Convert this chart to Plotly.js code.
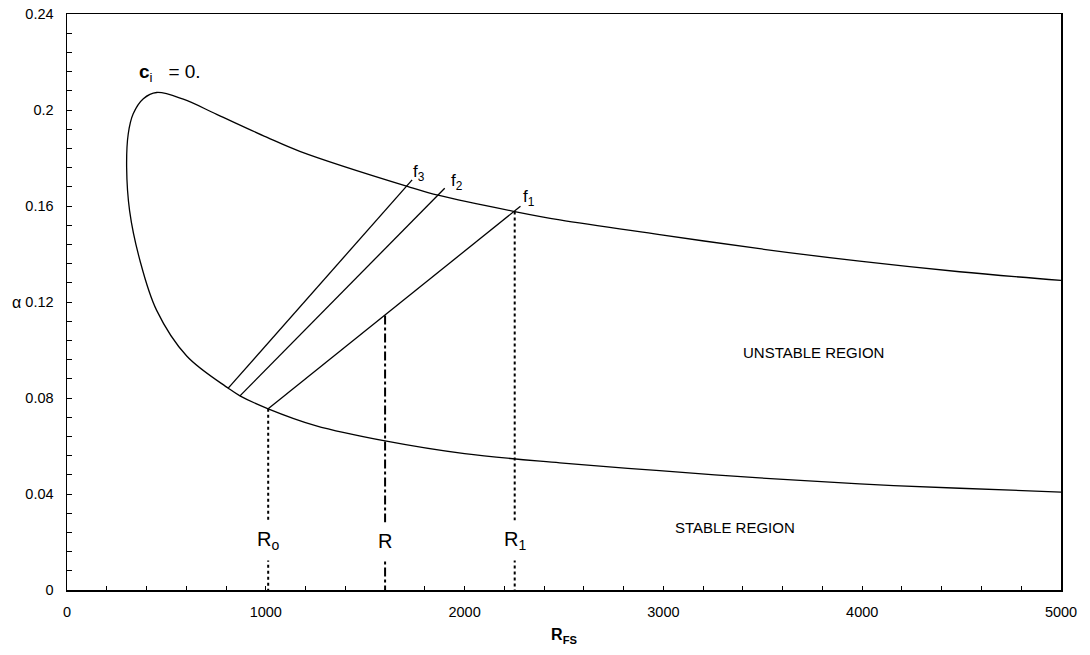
<!DOCTYPE html>
<html>
<head>
<meta charset="utf-8">
<script src="https://cdn.plot.ly/plotly-3.0.1.min.js"></script>
<style>html,body{margin:0;padding:0;background:#fff;}#chart{width:1090px;height:655px;}</style>
</head>
<body>
<div id="chart"></div>
<script>
// Neutral stability curve (c_i = 0): lower branch right->left, nose, then upper branch left->right
const neutralR = [5000, 4490, 3987, 3484, 2981, 2479, 2000, 1607, 1250, 1012, 870, 811, 602, 451, 367, 315, 300, 308, 333, 384, 451, 585, 753, 1004, 1171, 1716, 1872, 2252, 2479, 2981, 3484, 3987, 4490, 5000];
const neutralAlpha = [0.0408, 0.0424, 0.0442, 0.0467, 0.0497, 0.0530, 0.0568, 0.0620, 0.0685, 0.0755, 0.0809, 0.0841, 0.0975, 0.1165, 0.1373, 0.158, 0.176, 0.190, 0.1984, 0.2047, 0.2073, 0.2045, 0.1982, 0.1887, 0.1828, 0.1681, 0.1644, 0.1577, 0.1542, 0.1481, 0.1422, 0.1370, 0.1326, 0.1290];

// Constant-frequency lines f1, f2, f3
const f1R = [1012, 2281], f1Alpha = [0.0755, 0.1599];
const f2R = [870, 1900],  f2Alpha = [0.0809, 0.1674];
const f3R = [811, 1736],  f3Alpha = [0.0841, 0.1709];

// Reynolds number markers
const RoR = [1012, 1012], RoAlpha = [0.0755, 0];
const RR  = [1600, 1600], RAlpha  = [0.1144, 0];
const R1R = [2252, 2252], R1Alpha = [0.1577, 0];

const xTicks = [0, 1000, 2000, 3000, 4000, 5000];
const yTicks = [0, 0.04, 0.08, 0.12, 0.16, 0.2, 0.24];
const yTickText = ['0', '0.04', '0.08', '0.12', '0.16', '0.2', '0.24'];

const FONT = 'Liberation Sans, Arial, sans-serif';
const lineStyle = {color: '#000', width: 1.3};

const traces = [
  {x: neutralR, y: neutralAlpha, mode: 'lines', line: {color: '#000', width: 1.3, shape: 'spline', smoothing: 1}, hoverinfo: 'skip'},
  {x: f1R, y: f1Alpha, mode: 'lines', line: lineStyle},
  {x: f2R, y: f2Alpha, mode: 'lines', line: lineStyle},
  {x: f3R, y: f3Alpha, mode: 'lines', line: lineStyle},
  {x: RoR, y: RoAlpha, mode: 'lines', line: {color: '#000', width: 2, dash: 'dot'}},
  {x: RR,  y: RAlpha,  mode: 'lines', line: {color: '#000', width: 2, dash: 'dashdot'}},
  {x: R1R, y: R1Alpha, mode: 'lines', line: {color: '#000', width: 2, dash: 'dot'}}
];

function labelAt(xv, yv, text, opts) {
  return Object.assign({x: xv, y: yv, xref: 'x', yref: 'y', text: text, showarrow: false,
    font: {family: FONT, size: 17, color: '#000'}}, opts || {});
}

const rLabelY = 0.0205;
const rFont = {family: FONT, size: 20, color: '#000'};
const annotations = [
  labelAt(f3R[1], f3Alpha[1], 'f<sub>3</sub>', {xanchor: 'left', yanchor: 'middle', xshift: -1, yshift: 7}),
  labelAt(f2R[1], f2Alpha[1], 'f<sub>2</sub>', {xanchor: 'left', yanchor: 'middle', xshift: 4, yshift: 6}),
  labelAt(f1R[1], f1Alpha[1], 'f<sub>1</sub>', {xanchor: 'left', yanchor: 'middle', xshift: 1, yshift: 8}),
  labelAt(RoR[0], rLabelY, 'R<sub>o</sub>', {font: rFont, bgcolor: '#fff', borderpad: 7}),
  labelAt(RR[0], rLabelY, 'R', {font: rFont, bgcolor: '#fff', borderpad: 7}),
  labelAt(R1R[0], rLabelY, 'R<sub>1</sub>', {font: rFont, bgcolor: '#fff', borderpad: 7}),
  labelAt(3756, 0.099, 'UNSTABLE REGION', {font: {family: FONT, size: 15, color: '#000'}}),
  labelAt(3358, 0.026, 'STABLE REGION', {font: {family: FONT, size: 15, color: '#000'}}),
  labelAt(362, 0.2156, '<b>c</b><sub>i</sub>&nbsp;&nbsp;&nbsp;= 0.', {xanchor: 'left', xshift: -2, font: {family: FONT, size: 19, color: '#000'}}),
  {x: -0.0513, y: 0.5, xref: 'paper', yref: 'paper', xanchor: 'center', yanchor: 'middle', text: 'α', showarrow: false,
   font: {family: FONT, size: 16, color: '#000'}}
];

const layout = {
  width: 1090, height: 655,
  margin: {l: 67, r: 29, t: 14, b: 65},
  paper_bgcolor: '#fff', plot_bgcolor: '#fff',
  showlegend: false,
  font: {family: FONT, size: 14.5, color: '#000'},
  xaxis: {
    range: [0, 5000], tickvals: xTicks, ticktext: xTicks.map(String),
    ticks: 'inside', ticklen: 4, tickwidth: 1, tickcolor: '#000',
    minor: {dtick: 200, ticks: 'inside', ticklen: 4, tickwidth: 1, tickcolor: '#000'},
    showgrid: false, zeroline: false, showline: true, linecolor: '#000', linewidth: 1.5, mirror: true,
    ticklabelstandoff: 8,
    title: {text: '<b>R<sub>FS</sub></b>', font: {family: FONT, size: 16, color: '#000'}, standoff: 10}
  },
  yaxis: {
    range: [0, 0.24], tickvals: yTicks, ticktext: yTickText,
    ticks: 'inside', ticklen: 5, tickwidth: 1, tickcolor: '#000',
    minor: {dtick: 0.008, ticks: 'inside', ticklen: 5, tickwidth: 1, tickcolor: '#000'},
    showgrid: false, zeroline: false, showline: true, linecolor: '#000', linewidth: 1.5, mirror: true,
    ticklabelstandoff: 9
  },
  annotations: annotations
};

Plotly.newPlot('chart', traces, layout, {staticPlot: true, displayModeBar: false});
</script>
</body>
</html>
